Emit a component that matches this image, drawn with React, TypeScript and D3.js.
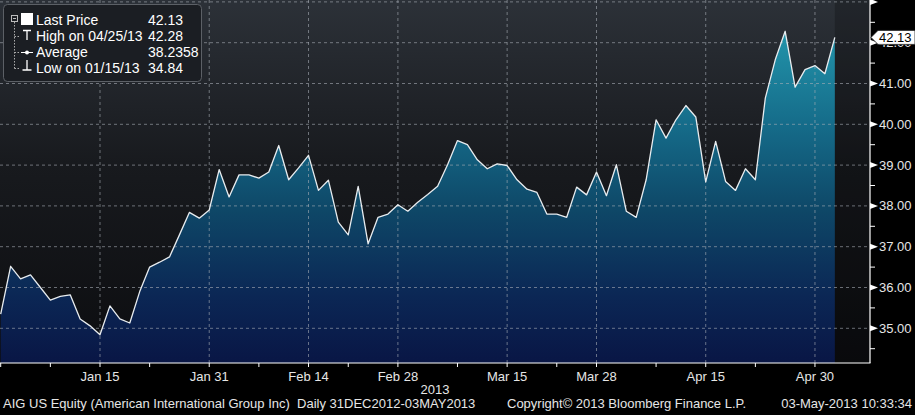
import React, { useEffect } from "react";
import * as d3 from "d3";

const prices: number[] = [
  35.35, 36.52, 36.21, 36.31, 36.0, 35.69, 35.78, 35.82, 35.23, 35.06,
  34.84, 35.55, 35.23, 35.13, 35.9, 36.5, 36.62, 36.75, 37.29, 37.84,
  37.7, 37.9, 38.89, 38.22, 38.76, 38.76, 38.68, 38.83, 39.48, 38.64,
  38.93, 39.24, 38.38, 38.63, 37.6, 37.29, 38.48, 37.07, 37.72, 37.8,
  38.03, 37.87, 38.09, 38.28, 38.48, 39.01, 39.6, 39.5, 39.13, 38.91,
  39.03, 38.99, 38.64, 38.41, 38.33, 37.8, 37.8, 37.72, 38.46, 38.27,
  38.83, 38.25, 39.01, 37.87, 37.72, 38.64, 40.11, 39.66, 40.11, 40.46,
  40.18, 38.59, 39.58, 38.6, 38.38, 38.91, 38.64, 40.64, 41.58, 42.28,
  40.91, 41.34, 41.44, 41.24, 42.13,
];

const xTickIdx: number[] = [10, 21, 31, 40, 51, 60, 71, 82];
const xTickLabels: string[] = ["Jan 15", "Jan 31", "Feb 14", "Feb 28", "Mar 15", "Mar 28", "Apr 15", "Apr 30"];
const xMinorIdx: number[] = [0, 5, 15, 26, 35, 46, 56, 66, 76];
const yMajor: number[] = [35, 36, 37, 38, 39, 40, 41, 42, 43];
const yMinor: number[] = [34.5, 35.5, 36.5, 37.5, 38.5, 39.5, 40.5, 41.5, 42.5];
const yLabeled: number[] = [35, 36, 37, 38, 39, 40, 41, 42];

const legendLabels: string[] = ["Last Price", "High on 04/25/13", "Average", "Low on 01/15/13"];
const legendValues: string[] = ["42.13", "42.28", "38.2358", "34.84"];
const lastPrice = 42.13;

const footerLeft = "AIG US Equity (American International Group Inc)  Daily 31DEC2012-03MAY2013";
const footerMid = "Copyright\u00A9 2013 Bloomberg Finance L.P.";
const footerRight = "03-May-2013 10:33:34";
const yearLabel = "2013";

const W = 915;
const H = 415;
const plotRight = 870;
const axisY = 363;
const FONT = "'Liberation Sans', Arial, sans-serif";

export default function App() {
  useEffect(() => {
    document.body.style.margin = "0";
    document.body.style.background = "#000";
  }, []);

  const x = d3.scaleLinear().domain([0, prices.length - 1]).range([0.7, 0.7 + 9.93 * (prices.length - 1)]);
  const y = d3.scaleLinear().domain([35, 42]).range([328.3, 42.7]);

  const area = d3
    .area<number>()
    .x((_, i) => x(i))
    .y0(axisY)
    .y1((d) => y(d))(prices) as string;
  const line = d3
    .line<number>()
    .x((_, i) => x(i))
    .y((d) => y(d))(prices) as string;

  const lastX = x(prices.length - 1);
  const lpY = y(lastPrice);

  return (
    <div style={{ position: "absolute", left: 0, top: 0, width: W, height: H, background: "#000" }}>
      <svg width={W} height={H} style={{ display: "block" }} fontFamily={FONT}>
        <defs>
          <linearGradient id="bg" gradientUnits="userSpaceOnUse" x1="0" y1="0" x2="0" y2={axisY}>
            <stop offset="0" stopColor="#2c3138" />
            <stop offset="0.45" stopColor="#181a1e" />
            <stop offset="1" stopColor="#0c0d10" />
          </linearGradient>
          <linearGradient id="fill" gradientUnits="userSpaceOnUse" x1="0" y1="25" x2="0" y2={axisY}>
            <stop offset="0" stopColor="#2397ad" />
            <stop offset="0.3" stopColor="#156b89" />
            <stop offset="0.55" stopColor="#0e4767" />
            <stop offset="0.8" stopColor="#0b2755" />
            <stop offset="1" stopColor="#091645" />
          </linearGradient>
        </defs>
        <rect x={0} y={0} width={W} height={H} fill="#000" />
        <rect x={0} y={0} width={plotRight} height={axisY} fill="url(#bg)" />
        <rect x={lastX} y={0} width={plotRight - lastX} height={axisY} fill="#000" opacity={0.22} />
        <path d={area} fill="url(#fill)" />
        {/* grid */}
        {yMajor.map((v) => (
          <line key={"gy" + v} x1={0} x2={plotRight} y1={y(v)} y2={y(v)} stroke="#a8aeb5" strokeOpacity={0.6} strokeWidth={1} strokeDasharray="3,3" />
        ))}
        {xTickIdx.map((i) => (
          <line key={"gx" + i} x1={x(i)} x2={x(i)} y1={0} y2={axisY} stroke="#a8aeb5" strokeOpacity={0.6} strokeWidth={1} strokeDasharray="3,3" />
        ))}
        <path d={line} fill="none" stroke="#e8ecef" strokeWidth={1.3} strokeLinejoin="round" />
        {/* axes */}
        <line x1={0} x2={plotRight + 0.5} y1={axisY} y2={axisY} stroke="#fff" strokeWidth={1.2} />
        <line x1={plotRight} x2={plotRight} y1={0} y2={axisY} stroke="#fff" strokeWidth={1.2} />
        {[...xTickIdx, ...xMinorIdx].map((i) => (
          <line key={"xt" + i} x1={x(i)} x2={x(i)} y1={axisY} y2={axisY + 4} stroke="#fff" strokeWidth={1} />
        ))}
        {xTickIdx.map((i, k) => (
          <text key={"xl" + i} x={x(i)} y={381} fill="#e6e6e6" fontSize={13} textAnchor="middle">
            {xTickLabels[k]}
          </text>
        ))}
        <text x={435} y={394} fill="#e6e6e6" fontSize={13} textAnchor="middle">{yearLabel}</text>
        {yMinor.map((v) => (
          <line key={"ym" + v} x1={plotRight} x2={plotRight + 5} y1={y(v)} y2={y(v)} stroke="#fff" strokeWidth={1} />
        ))}
        {yMajor.map((v) => (
          <path key={"yt" + v} d={`M${plotRight},${y(v) - 3}L${plotRight + 8},${y(v)}L${plotRight},${y(v) + 3}Z`} fill="#fff" />
        ))}
        {yLabeled.map((v) => (
          <text key={"yl" + v} x={879} y={y(v)} dy="0.35em" fill="#e6e6e6" fontSize={13}>
            {d3.format(".2f")(v)}
          </text>
        ))}
        {/* last price box */}
        <path d={`M${plotRight + 1},${lpY}L${plotRight + 8},${lpY - 7}L${W},${lpY - 7}L${W},${lpY + 7}L${plotRight + 8},${lpY + 7}Z`} fill="#fff" stroke="#222" strokeWidth={0.8} />
        <text x={879} y={lpY} dy="0.36em" fill="#000" fontSize={13}>{d3.format(".2f")(lastPrice)}</text>
        {/* legend */}
        <rect x={3.5} y={4.5} width={198} height={77} rx={4} fill="#1b1e23" stroke="#5c6066" strokeWidth={1} />
        <rect x={11.5} y={15.5} width={6} height={6} fill="none" stroke="#bbb" strokeWidth={1} />
        <line x1={13} x2={16} y1={18.5} y2={18.5} stroke="#bbb" strokeWidth={1} />
        <path d="M14.5,22 V68.5 M14.5,36.5 H19 M14.5,52.5 H19 M14.5,68.5 H19" stroke="#aaa" strokeWidth={1} strokeDasharray="1.5,1.5" fill="none" />
        <rect x={21} y={13} width={12} height={12} fill="#fff" />
        <path d="M23,30.5 H31 M27,30.5 V40" stroke="#fff" strokeWidth={1.3} fill="none" />
        <path d="M21,52.5 H33" stroke="#fff" strokeWidth={1} fill="none" />
        <circle cx={27} cy={52.5} r={2} fill="#fff" />
        <path d="M27,60 V70 M22.5,70 H31.5" stroke="#fff" strokeWidth={1.3} fill="none" />
        {legendLabels.map((t, k) => (
          <text key={"lg" + k} x={36} y={25 + k * 16} fill="#fff" fontSize={14}>{t}</text>
        ))}
        {legendValues.map((t, k) => (
          <text key={"lv" + k} x={148} y={25 + k * 16} fill="#fff" fontSize={14}>{t}</text>
        ))}
        {/* footer */}
        <text x={3} y={408} fill="#e6e6e6" fontSize={13} style={{ whiteSpace: "pre" }}>{footerLeft}</text>
        <text x={507} y={408} fill="#e6e6e6" fontSize={13}>{footerMid}</text>
        <text x={912} y={408} fill="#e6e6e6" fontSize={13} textAnchor="end">{footerRight}</text>
      </svg>
    </div>
  );
}
